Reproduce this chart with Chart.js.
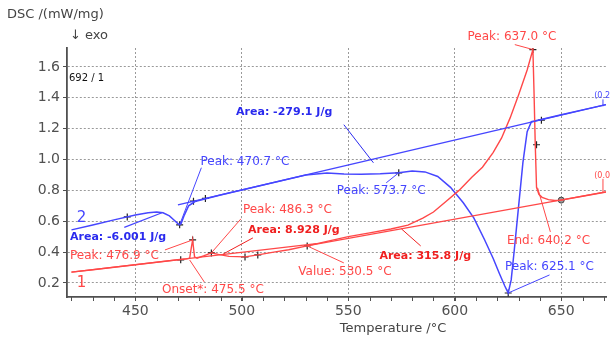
<!DOCTYPE html>
<html>
<head>
<meta charset="utf-8">
<script src="https://cdn.jsdelivr.net/npm/chart.js@4.4.0/dist/chart.umd.min.js"></script>
<style>
  html, body { margin: 0; padding: 0; background: #fff; }
  #wrap { width: 612px; height: 337px; position: relative; }
</style>
</head>
<body>
<div id="wrap"><canvas id="chart"></canvas></div>
<script>
// tick labels
const tempTicks = [450, 500, 550, 600, 650];
const dscTicks = [0.2, 0.4, 0.6, 0.8, 1.0, 1.2, 1.4, 1.6];

// curve 2 (blue)
const blueTemp = [420, 430, 440, 450, 456, 460, 463, 466, 468, 470, 470.7, 471.5, 473, 475, 478, 490, 500, 510, 520, 530,
  540, 548, 556, 565, 573.7, 580, 586, 592, 598, 604, 609, 614, 618, 621, 623.5, 625.1, 626.5, 628, 630, 632, 634, 636,
  640, 650, 660, 671];
const blueDsc = [0.544, 0.576, 0.609, 0.641, 0.655, 0.660, 0.655, 0.635, 0.610, 0.585, 0.577, 0.585, 0.640, 0.700, 0.728,
  0.770, 0.803, 0.835, 0.868, 0.900, 0.912, 0.906, 0.905, 0.908, 0.914, 0.925, 0.920, 0.890, 0.820, 0.720, 0.620, 0.480,
  0.360, 0.260, 0.180, 0.135, 0.220, 0.420, 0.700, 0.980, 1.180, 1.245, 1.258, 1.290, 1.322, 1.356];

// curve 1 (red)
const redTemp = [420, 430, 440, 450, 460, 470, 474, 475.5, 476.3, 476.9, 477.3, 477.8, 479, 482, 485.7, 489, 494, 501.5,
  507.5, 515, 522, 530.7, 540, 550, 560, 570, 578, 585, 590, 596, 602, 608, 613, 618, 622, 626, 630, 634, 636.7, 637.2,
  637.8, 638.4, 639.5, 641, 644, 647, 650, 660, 671];
const redDsc = [0.270, 0.286, 0.302, 0.318, 0.334, 0.350, 0.356, 0.360, 0.430, 0.479, 0.430, 0.370, 0.360, 0.375, 0.395,
  0.385, 0.372, 0.369, 0.382, 0.400, 0.415, 0.440, 0.470, 0.500, 0.525, 0.550, 0.575, 0.620, 0.660, 0.730, 0.800, 0.885,
  0.950, 1.045, 1.140, 1.270, 1.420, 1.580, 1.713, 1.450, 1.100, 0.820, 0.775, 0.755, 0.740, 0.735, 0.737, 0.762, 0.790];

// evaluation lines
const blueTanTemp = [444.8, 462.5];
const blueTanDsc = [0.560, 0.655];
const blueBaseTemp = [470, 671];
const blueBaseDsc = [0.706, 1.356];
const redBase1Temp = [420, 535];
const redBase1Dsc = [0.270, 0.455];
const redBase2Temp = [530.5, 671];
const redBase2Dsc = [0.440, 0.790];

// evaluation points
const blueMarkTemp = [446.2, 470.8, 477.3, 482.9, 573.7, 625.1, 640.7];
const blueMarkDsc = [0.628, 0.577, 0.730, 0.748, 0.914, 0.135, 1.255];
const redMarkTemp = [471.3, 476.9, 485.7, 501.5, 507.5, 530.7, 636.7, 638.4];
const redMarkDsc = [0.350, 0.479, 0.395, 0.369, 0.382, 0.440, 1.713, 1.096];
const redCircleTemp = [650];
const redCircleDsc = [0.737];

const BLUE = '#4646ff';
const RED = '#ff4848';
const AXIS = '#505050';

function pts(xs, ys) {
  return xs.map((x, i) => ({ x: x, y: ys[i] }));
}

function lineSet(xs, ys, color, width) {
  return { data: pts(xs, ys), showLine: true, borderColor: color, borderWidth: width, pointRadius: 0, tension: 0 };
}

// text labels with leader lines, anchored in data units
const notes = [
  { text: '2', color: BLUE, font: '15px "DejaVu Sans"', at: [422.5, 0.622] },
  { text: '1', color: RED, font: '15px "DejaVu Sans"', at: [422.5, 0.200] },
  { text: 'Area: -6.001 J/g', color: '#2a2aee', font: 'bold 11px "DejaVu Sans"', at: [419.3, 0.499] },
  { text: 'Peak: 476.9 °C', color: RED, at: [419.3, 0.375], lead: [[463.9, 0.414], [476.9, 0.479]] },
  { text: 'Onset*: 475.5 °C', color: RED, at: [462.5, 0.155], lead: [[475.5, 0.349], [482.4, 0.206]] },
  { text: 'Peak: 470.7 °C', color: BLUE, at: [480.6, 0.986], lead: [[481, 0.947], [470.8, 0.577]] },
  { text: 'Area: -279.1 J/g', color: '#2a2aee', font: 'bold 11px "DejaVu Sans"', at: [497.3, 1.31], lead: [[547.9, 1.226], [561.8, 0.979]] },
  { text: 'Peak: 573.7 °C', color: BLUE, at: [544.6, 0.797], lead: [[567.8, 0.849], [573.7, 0.914]] },
  { text: 'Peak: 486.3 °C', color: RED, at: [500.5, 0.674], lead: [[499.6, 0.616], [485.7, 0.395]] },
  { text: 'Area: 8.928 J/g', color: '#f02020', font: 'bold 11px "DejaVu Sans"', at: [502.9, 0.544], lead: [[505.2, 0.492], [491.3, 0.388]] },
  { text: 'Value: 530.5 °C', color: RED, at: [526.5, 0.271], lead: [[547.9, 0.33], [530.7, 0.44]] },
  { text: 'Area: 315.8 J/g', color: '#f02020', font: 'bold 11px "DejaVu Sans"', at: [564.6, 0.375], lead: [[584, 0.44], [575, 0.55]] },
  { text: 'Peak: 637.0 °C', color: RED, at: [606, 1.797], lead: [[628.2, 1.745], [636.7, 1.713]] },
  { text: 'End: 640.2 °C', color: RED, at: [624.5, 0.473], lead: [[644.9, 0.531], [638.9, 0.817]] },
  { text: 'Peak: 625.1 °C', color: BLUE, at: [623.6, 0.304], lead: [[644.5, 0.252], [625.1, 0.135]] },
  { text: '(0.2', color: BLUE, font: '8px "DejaVu Sans"', at: [665.5, 1.41], lead: [[669.6, 1.39], [669.6, 1.345]] },
  { text: '(0.0', color: RED, font: '8px "DejaVu Sans"', at: [665.5, 0.895], lead: [[669.6, 0.875], [669.6, 0.79]] }
];

const dscText = {
  id: 'dscText',
  afterDraw(chart) {
    const ctx = chart.ctx;
    const x = chart.scales.x;
    const y = chart.scales.y;
    ctx.save();
    // minor ticks on the temperature axis
    ctx.strokeStyle = AXIS;
    ctx.lineWidth = 1;
    for (let t = 420; t <= 670; t += 10) {
      const px = Math.round(x.getPixelForValue(t)) + 0.5;
      ctx.beginPath();
      ctx.moveTo(px, y.bottom);
      ctx.lineTo(px, y.bottom + 4);
      ctx.stroke();
    }
    // leaders and labels
    ctx.textBaseline = 'middle';
    ctx.textAlign = 'left';
    notes.forEach(n => {
      if (n.lead) {
        ctx.strokeStyle = n.color;
        ctx.lineWidth = 1;
        ctx.beginPath();
        ctx.moveTo(x.getPixelForValue(n.lead[0][0]), y.getPixelForValue(n.lead[0][1]));
        ctx.lineTo(x.getPixelForValue(n.lead[1][0]), y.getPixelForValue(n.lead[1][1]));
        ctx.stroke();
      }
      ctx.fillStyle = n.color;
      ctx.font = n.font || '12px "DejaVu Sans"';
      ctx.fillText(n.text, x.getPixelForValue(n.at[0]), y.getPixelForValue(n.at[1]));
    });
    ctx.fillStyle = '#111';
    ctx.font = '10px "DejaVu Sans"';
    ctx.fillText('692 / 1', x.left + 2, y.top + 30);
    // axis captions
    ctx.fillStyle = '#444';
    ctx.font = '13px "DejaVu Sans"';
    ctx.fillText('DSC /(mW/mg)', 7, 15);
    ctx.fillText('↓ exo', 70, 36);
    ctx.textAlign = 'center';
    ctx.fillText('Temperature /°C', 393, 329);
    ctx.restore();
  }
};

new Chart(document.getElementById('chart'), {
  type: 'scatter',
  data: {
    datasets: [
      lineSet(redBase1Temp, redBase1Dsc, RED, 1.2),
      lineSet(redBase2Temp, redBase2Dsc, RED, 1.2),
      lineSet(blueTanTemp, blueTanDsc, BLUE, 1.2),
      lineSet(blueBaseTemp, blueBaseDsc, BLUE, 1.4),
      lineSet(redTemp, redDsc, RED, 1.4),
      lineSet(blueTemp, blueDsc, BLUE, 1.5),
      { data: pts(blueMarkTemp, blueMarkDsc), pointStyle: 'cross', pointRadius: 3.5, borderColor: '#222', borderWidth: 1.2 },
      { data: pts(redMarkTemp, redMarkDsc), pointStyle: 'cross', pointRadius: 3.5, borderColor: '#222', borderWidth: 1.2 },
      { data: pts(redCircleTemp, redCircleDsc), pointStyle: 'circle', pointRadius: 3, borderColor: '#444', backgroundColor: '#999', borderWidth: 1 }
    ]
  },
  options: {
    responsive: true,
    maintainAspectRatio: false,
    animation: false,
    layout: { padding: { left: 0, top: 48, right: 0, bottom: 0 } },
    plugins: {
      legend: { display: false },
      tooltip: { enabled: false }
    },
    scales: {
      x: {
        type: 'linear',
        min: 417.9,
        max: 671.4,
        afterBuildTicks: s => { s.ticks = tempTicks.map(v => ({ value: v })); },
        afterFit: s => { s.height = 40; },
        ticks: { color: AXIS, font: { family: 'DejaVu Sans', size: 14 }, padding: 2, maxRotation: 0 },
        grid: { color: '#9a9a9a', lineWidth: 1, tickColor: AXIS, tickLength: 4 },
        border: { color: AXIS, width: 1.8, dash: [2, 2] }
      },
      y: {
        type: 'linear',
        min: 0.109,
        max: 1.723,
        afterBuildTicks: s => { s.ticks = dscTicks.map(v => ({ value: v })); },
        afterFit: s => { s.width = 67; },
        ticks: { color: AXIS, font: { family: 'DejaVu Sans', size: 14 }, padding: 3, callback: v => v.toFixed(1) },
        grid: { color: '#9a9a9a', lineWidth: 1, tickColor: AXIS, tickLength: 4 },
        border: { color: AXIS, width: 1.8, dash: [2, 2] }
      }
    }
  },
  plugins: [dscText]
});
</script>
</body>
</html>
